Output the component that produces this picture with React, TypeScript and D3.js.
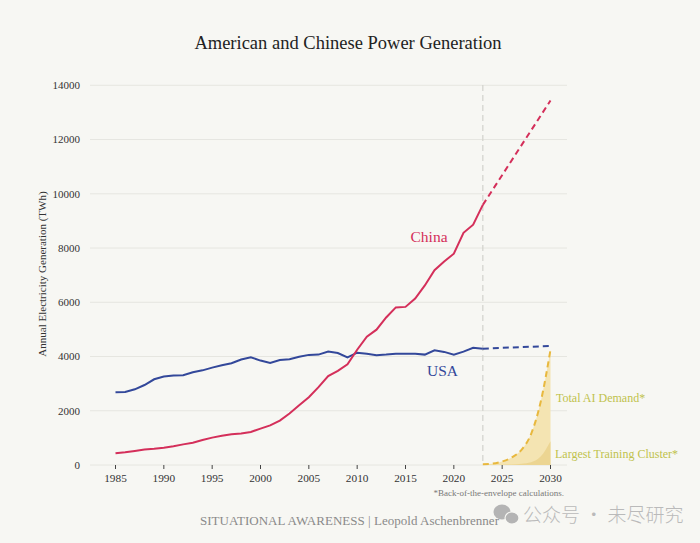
import React from 'react';
import * as d3 from 'd3';

// Historical generation, TWh
const years = d3.range(1985, 2024);
const usa = [
  2680, 2690, 2790, 2950, 3160, 3260, 3300, 3310, 3420, 3490,
  3590, 3680, 3750, 3890, 3970, 3850, 3760, 3870, 3900, 3990,
  4060, 4070, 4180, 4130, 3970, 4140, 4100, 4050, 4070, 4100,
  4100, 4100, 4070, 4230, 4170, 4070, 4180, 4320, 4290,
];
const china = [
  430, 470, 520, 570, 600, 640, 690, 760, 820, 920,
  1010, 1080, 1130, 1160, 1220, 1340, 1460, 1640, 1900, 2200,
  2500, 2870, 3280, 3470, 3710, 4250, 4730, 4990, 5440, 5810,
  5830, 6140, 6620, 7180, 7500, 7790, 8560, 8860, 9590,
];

// Projections
const projYears = [2023, 2030];
const usaProj = [4290, 4390];
const chinaProj = [9590, 13440];

// AI demand (back-of-the-envelope)
const aiYears = [2023, 2024, 2025, 2026, 2027, 2028, 2029, 2030];
const aiTotal = [30, 50, 130, 280, 560, 1150, 2350, 4250];
const aiCluster = [0, 5, 10, 20, 45, 100, 320, 880];

const xTicks = [1985, 1990, 1995, 2000, 2005, 2010, 2015, 2020, 2025, 2030];
const yTicks = [0, 2000, 4000, 6000, 8000, 10000, 12000, 14000];

const W = 700;
const H = 543;
const serif = '"Liberation Serif", "DejaVu Serif", serif';

const RED = '#d42f5a';
const BLUE = '#33489a';
const GOLD = '#e8b83e';
const OLIVE = '#c0c24c';

export default function App() {
  const x = d3.scaleLinear().domain([1985, 2030]).range([115.5, 550.5]);
  const y = d3.scaleLinear().domain([0, 14000]).range([465, 85.3]);

  type P = [number, number];
  const zip = (xs: number[], ys: number[]): P[] => xs.map((v, i) => [v, ys[i]]);

  const line = d3.line<P>().x(d => x(d[0])).y(d => y(d[1]));
  const curve = d3.line<P>().x(d => x(d[0])).y(d => y(d[1])).curve(d3.curveMonotoneX);
  const area = d3.area<P>().x(d => x(d[0])).y0(y(0)).y1(d => y(d[1])).curve(d3.curveMonotoneX);

  return (
    <svg width={W} height={H} style={{ position: 'absolute', left: 0, top: 0, background: '#f7f7f3' }}>
      <rect width={W} height={H} fill="#f7f7f3" />

      <text x={348} y={49} textAnchor="middle" fontFamily={serif} fontSize={18.5} fill="#222">
        American and Chinese Power Generation
      </text>

      {/* grid */}
      {yTicks.map(t => (
        <g key={t}>
          <line x1={90} x2={567} y1={y(t)} y2={y(t)} stroke="#e6e6e0" strokeWidth={1} />
          <text x={80} y={y(t)} dy="0.35em" textAnchor="end" fontFamily={serif} fontSize={11} fill="#333">
            {t}
          </text>
        </g>
      ))}

      <text
        transform={`translate(46,274) rotate(-90)`}
        textAnchor="middle"
        fontFamily={serif}
        fontSize={11}
        fill="#333"
      >
        Annual Electricity Generation (TWh)
      </text>

      {xTicks.map(t => (
        <g key={t}>
          <line x1={x(t)} x2={x(t)} y1={465} y2={469} stroke="#444" strokeWidth={1} />
          <text x={x(t)} y={482} textAnchor="middle" fontFamily={serif} fontSize={11.3} fill="#333">
            {t}
          </text>
        </g>
      ))}

      {/* 2023 divider */}
      <line x1={x(2023)} x2={x(2023)} y1={85} y2={465} stroke="#d2d2cc" strokeWidth={1.2} strokeDasharray="6,4" />

      {/* AI demand */}
      <path d={area(zip(aiYears, aiTotal)) || ''} fill="#f4e4b2" />
      <path d={area(zip(aiYears, aiCluster)) || ''} fill="#ecd592" />
      <path d={curve(zip(aiYears, aiTotal)) || ''} fill="none" stroke={GOLD} strokeWidth={2} strokeDasharray="6,4" />

      {/* series */}
      <path d={line(zip(years, usa)) || ''} fill="none" stroke={BLUE} strokeWidth={2} />
      <path d={line(zip(projYears, usaProj)) || ''} fill="none" stroke={BLUE} strokeWidth={2} strokeDasharray="6,4" />
      <path d={line(zip(years, china)) || ''} fill="none" stroke={RED} strokeWidth={2} />
      <path d={line(zip(projYears, chinaProj)) || ''} fill="none" stroke={RED} strokeWidth={2} strokeDasharray="6,4" />

      <text x={410.5} y={241.5} fontFamily={serif} fontSize={15.5} fill={RED}>China</text>
      <text x={427} y={376} fontFamily={serif} fontSize={15.5} fill={BLUE}>USA</text>
      <text x={556} y={401.5} fontFamily={serif} fontSize={12} fill={OLIVE}>Total AI Demand*</text>
      <text x={555} y={457.5} fontFamily={serif} fontSize={12} fill={OLIVE}>Largest Training Cluster*</text>

      <text x={564} y={496} textAnchor="end" fontFamily={serif} fontSize={9} fill="#777">
        *Back-of-the-envelope calculations.
      </text>

      <text x={200} y={525} fontFamily={serif} fontSize={13} fill="#8a8a8a" textLength={299}>
        SITUATIONAL AWARENESS | Leopold Aschenbrenner
      </text>

      {/* watermark */}
      <g fill="#b4b4b4">
        <ellipse cx={502} cy={512} rx={8.5} ry={7.5} />
        <ellipse cx={512} cy={518} rx={7} ry={6} stroke="#f7f7f3" strokeWidth={1.2} />
      </g>
      <text x={523} y={522} fontFamily='"Noto Sans CJK SC", sans-serif' fontWeight={300} fontSize={19} fill="#bababa">
        公众号 · 未尽研究
      </text>
    </svg>
  );
}
